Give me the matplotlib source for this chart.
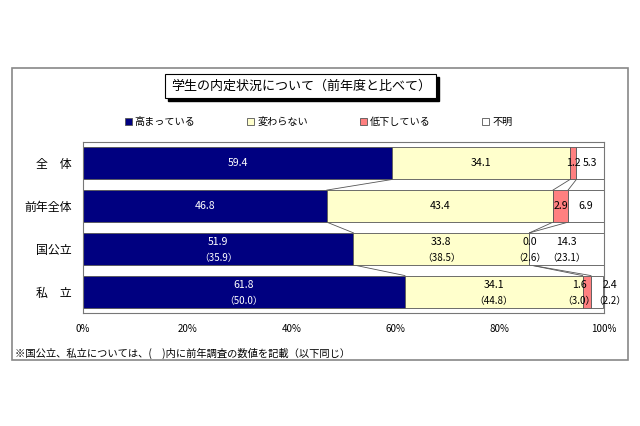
import matplotlib
matplotlib.use("Agg")
import matplotlib.pyplot as plt
import matplotlib.patches as patches
import numpy as np

plt.rcParams['font.family'] = ['Noto Sans CJK JP', 'DejaVu Sans']

# データ
categories = ["全　体", "前年全体", "国公立", "私　立"]
series = ["高まっている", "変わらない", "低下している", "不明"]
values = [
    [59.4, 34.1, 1.2, 5.3],
    [46.8, 43.4, 2.9, 6.9],
    [51.9, 33.8, 0.0, 14.3],
    [61.8, 34.1, 1.6, 2.4],
]
prev_values = [
    None,
    None,
    [35.9, 38.5, 2.6, 23.1],
    [50.0, 44.8, 3.0, 2.2],
]
colors = ["#000080", "#FFFFCC", "#FF8080", "#FFFFFF"]
text_colors = ["white", "black", "black", "black"]

# 重なりを避けるためのラベルのずらし（行, 系列）: x方向
label_shift = {(3, 2): -1.5, (3, 3): 2.4}

fig = plt.figure(figsize=(6.4, 4.26), dpi=100)
ax = fig.add_axes([83/640, 113/426, 521/640, 171/426])

vals = np.array(values)
y = np.arange(len(categories))
h = 0.75
left = np.zeros(len(categories))
bars = []
for k in range(len(series)):
    b = ax.barh(y, vals[:, k], left=left, height=h, color=colors[k],
                edgecolor="#555555", linewidth=0.6, label=series[k], zorder=2)
    bars.append(b)
    for i in range(len(categories)):
        cx = left[i] + vals[i, k] / 2 + label_shift.get((i, k), 0)
        if prev_values[i] is None:
            ax.text(cx, y[i], f"{vals[i, k]:.1f}", ha="center", va="center",
                    fontsize=7.6, color=text_colors[k], zorder=3)
        else:
            ax.text(cx, y[i] - 0.15, f"{vals[i, k]:.1f}", ha="center", va="center",
                    fontsize=7.6, color=text_colors[k], zorder=3)
            ax.text(cx, y[i] + 0.21, f"（{prev_values[i][k]:.1f}）", ha="center", va="center",
                    fontsize=7.0, color=text_colors[k], zorder=3)
    left = left + vals[:, k]

# 系列線
cum = np.cumsum(vals, axis=1)
for i in range(len(categories) - 1):
    for k in range(3):
        ax.plot([cum[i, k], cum[i + 1, k]], [y[i] + h / 2, y[i + 1] - h / 2],
                color="#555555", linewidth=0.6, zorder=1)

ax.set_xlim(0, 100)
ax.set_ylim(len(categories) - 0.5, -0.5)
ax.set_yticks(y)
ax.set_yticklabels(categories, fontsize=8.6)
ax.set_xticks([0, 20, 40, 60, 80, 100])
ax.set_xticklabels(["0%", "20%", "40%", "60%", "80%", "100%"], fontsize=7)
ax.tick_params(axis="both", length=0)
ax.tick_params(axis="x", pad=8)
ax.tick_params(axis="y", pad=8)
for s in ax.spines.values():
    s.set_color("#777777")
    s.set_linewidth(0.8)

# タイトル（影付き）
title = "学生の内定状況について（前年度と比べて）"
t = fig.text(0.470, 0.798, title, ha="center", va="center", fontsize=9.4, zorder=5,
             bbox=dict(facecolor="white", edgecolor="black", linewidth=0.8, pad=4))
fig.canvas.draw()
bb = t.get_bbox_patch().get_window_extent(fig.canvas.get_renderer())
fw, fh = fig.bbox.width, fig.bbox.height
fig.patches.append(patches.Rectangle(((bb.x0 + 3) / fw, (bb.y0 - 3) / fh),
                                     bb.width / fw, bb.height / fh,
                                     transform=fig.transFigure, facecolor="black",
                                     edgecolor="black", zorder=4))

fig.legend(handles=bars, labels=series, loc="center", bbox_to_anchor=(0.498, 0.714),
           ncol=4, frameon=False, fontsize=7.3, handlelength=0.7, handleheight=0.7,
           handletextpad=0.3, columnspacing=5.1)

fig.text(15/640, 73/426, "※国公立、私立については、(　)内に前年調査の数値を記載（以下同じ）",
         ha="left", va="center", fontsize=7.4)

# 外枠
fig.patches.append(patches.Rectangle((12/640, 66/426), 616/640, 292/426,
                                     transform=fig.transFigure, fill=False,
                                     edgecolor="#888888", linewidth=1.2))

fig.savefig("out.png", dpi=100, facecolor="white")
